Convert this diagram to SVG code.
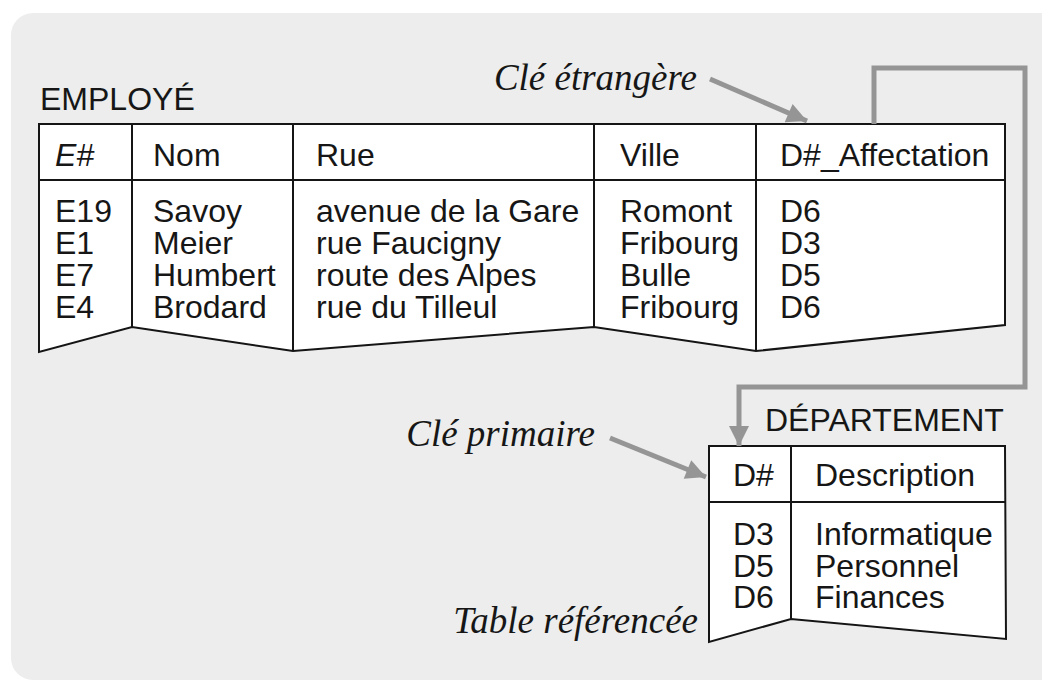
<svg xmlns="http://www.w3.org/2000/svg" width="1042" height="681" viewBox="0 0 1042 681">
<defs>
<style>
.bg{fill:#ECEDEC;}
.tbl{fill:#FFFFFF;stroke:#151515;stroke-width:2;stroke-linejoin:miter;}
.ln{fill:none;stroke:#151515;stroke-width:2;}
.t{font-family:"Liberation Sans",Arial,sans-serif;font-size:32px;fill:#161616;}
.it{font-family:"Liberation Serif","Times New Roman",serif;font-style:italic;font-size:37px;fill:#161616;}
.conn{fill:none;stroke:#959595;stroke-width:5;stroke-linejoin:miter;}
</style>
<marker id="ah" viewBox="0 0 10 10" refX="10" refY="5" markerWidth="6" markerHeight="4" markerUnits="strokeWidth" orient="auto">
<path d="M0,0 L10,5 L0,10 Z" fill="#959595"/>
</marker>
</defs>
<rect class="bg" x="11" y="13" width="1060" height="667" rx="22" ry="22"/>

<g id="employe">
<text class="t" x="40" y="110">EMPLOYÉ</text>
<path class="tbl" d="M39,124 L1005,124 L1005,325 L756,351 L594,327 L293,351 L132,327 L39,352 Z"/>
<line class="ln" x1="39" y1="180" x2="1005" y2="180"/>
<line class="ln" x1="132" y1="124" x2="132" y2="327"/>
<line class="ln" x1="293" y1="124" x2="293" y2="351"/>
<line class="ln" x1="594" y1="124" x2="594" y2="327"/>
<line class="ln" x1="756" y1="124" x2="756" y2="351"/>
<text class="t" x="55" y="166" font-style="italic">E#</text>
<text class="t" x="153" y="166">Nom</text>
<text class="t" x="316" y="166">Rue</text>
<text class="t" x="620" y="166">Ville</text>
<text class="t" x="780" y="166">D#_Affectation</text>
<text class="t" y="222"><tspan x="55">E19</tspan><tspan x="55" dy="32">E1</tspan><tspan x="55" dy="32">E7</tspan><tspan x="55" dy="32">E4</tspan></text>
<text class="t" y="222"><tspan x="153">Savoy</tspan><tspan x="153" dy="32">Meier</tspan><tspan x="153" dy="32">Humbert</tspan><tspan x="153" dy="32">Brodard</tspan></text>
<text class="t" y="222"><tspan x="316">avenue de la Gare</tspan><tspan x="316" dy="32">rue Faucigny</tspan><tspan x="316" dy="32">route des Alpes</tspan><tspan x="316" dy="32">rue du Tilleul</tspan></text>
<text class="t" y="222"><tspan x="620">Romont</tspan><tspan x="620" dy="32">Fribourg</tspan><tspan x="620" dy="32">Bulle</tspan><tspan x="620" dy="32">Fribourg</tspan></text>
<text class="t" y="222"><tspan x="780">D6</tspan><tspan x="780" dy="32">D3</tspan><tspan x="780" dy="32">D5</tspan><tspan x="780" dy="32">D6</tspan></text>
</g>

<g id="departement">
<text class="t" x="765" y="431">DÉPARTEMENT</text>
<path class="tbl" d="M709,446 L1005,446 L1006,639 L791,619 L709,642 Z"/>
<line class="ln" x1="709" y1="502" x2="1005" y2="502"/>
<line class="ln" x1="791" y1="446" x2="791" y2="619"/>
<text class="t" x="733" y="486">D#</text>
<text class="t" x="815" y="486">Description</text>
<text class="t" y="545"><tspan x="733">D3</tspan><tspan x="733" dy="31.5">D5</tspan><tspan x="733" dy="31.5">D6</tspan></text>
<text class="t" y="545"><tspan x="815">Informatique</tspan><tspan x="815" dy="31.5">Personnel</tspan><tspan x="815" dy="31.5">Finances</tspan></text>
</g>

<g id="labels">
<text class="it" x="697" y="90" text-anchor="end">Clé étrangère</text>
<text class="it" x="595" y="446" text-anchor="end">Clé primaire</text>
<text class="it" x="698" y="633" text-anchor="end">Table référencée</text>
</g>

<g id="connectors">
<path class="conn" d="M874,124 L874,68 L1025,68 L1025,387 L739,387 L739,446" marker-end="url(#ah)"/>
<line class="conn" x1="710" y1="79" x2="807" y2="121" marker-end="url(#ah)"/>
<line class="conn" x1="610" y1="438" x2="706" y2="477" marker-end="url(#ah)"/>
</g>
</svg>
